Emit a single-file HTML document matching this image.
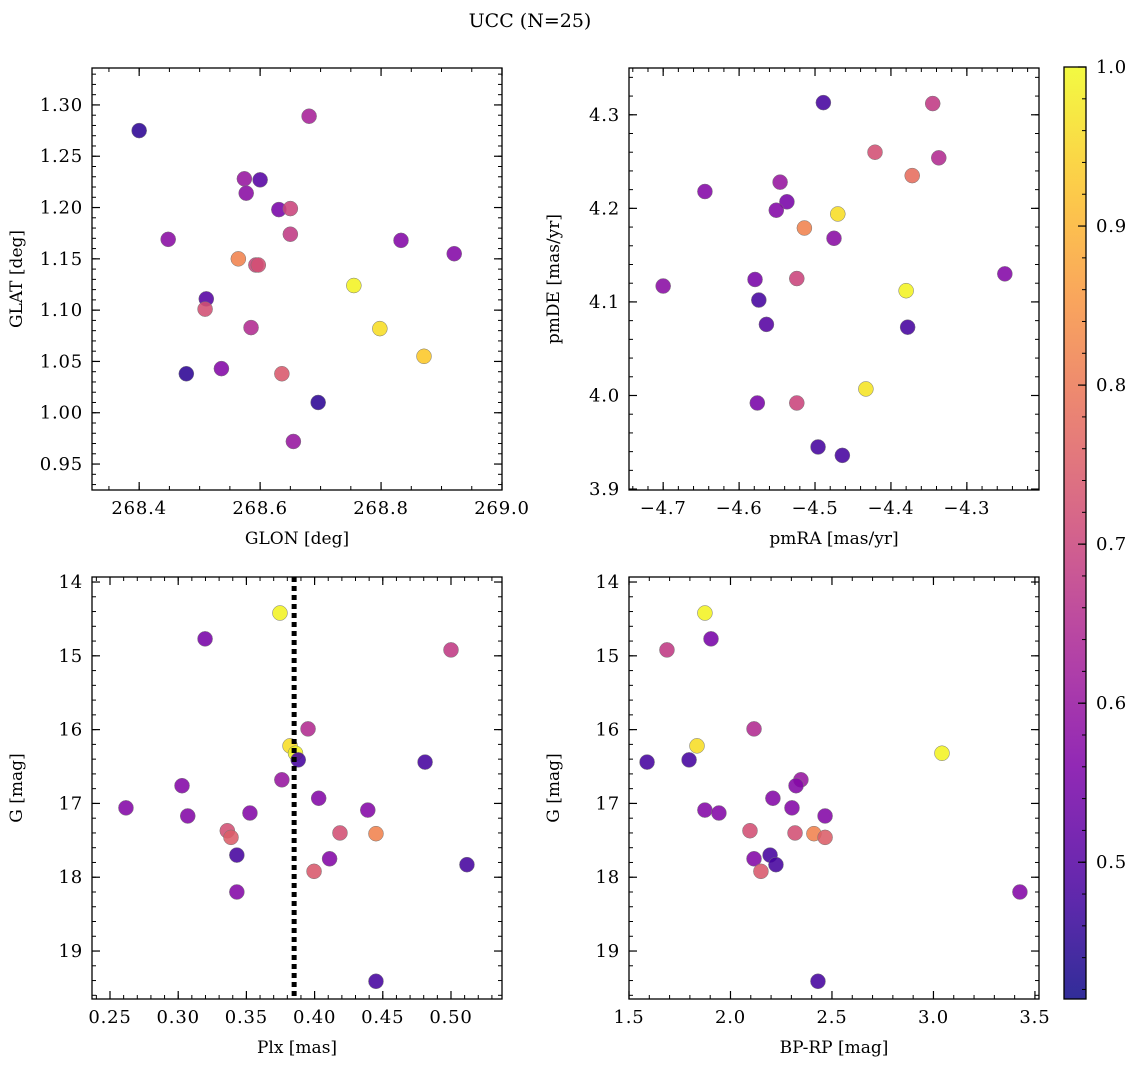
<!DOCTYPE html>
<html><head><meta charset="utf-8">
<style>
html,body{margin:0;padding:0;background:#fff;}
svg text{font-family:"DejaVu Serif","Liberation Serif",serif;fill:#000;}
</style></head>
<body>
<svg id="fig" width="1136" height="1067" xmlns="http://www.w3.org/2000/svg">
<text x="530" y="27" font-size="19" text-anchor="middle">UCC (N=25)</text>
</svg>
<script>
// ---- Data ----
const glon=[268.400,268.448,268.511,268.509,268.478,268.536,268.564,268.574,268.577,268.600,268.585,268.593,268.597,268.631,268.650,268.650,268.636,268.681,268.696,268.655,268.755,268.798,268.833,268.871,268.921];
const glat=[1.275,1.169,1.111,1.101,1.038,1.043,1.150,1.228,1.214,1.227,1.083,1.144,1.144,1.198,1.199,1.174,1.038,1.289,1.010,0.972,1.124,1.082,1.168,1.055,1.155];
const probTL=[0.45,0.58,0.50,0.72,0.45,0.57,0.82,0.60,0.58,0.50,0.65,0.70,0.72,0.55,0.70,0.68,0.74,0.63,0.45,0.60,0.99,0.96,0.57,0.93,0.57];
const pmra=[-4.700,-4.645,-4.489,-4.345,-4.421,-4.337,-4.372,-4.546,-4.537,-4.551,-4.470,-4.514,-4.475,-4.579,-4.524,-4.574,-4.564,-4.380,-4.378,-4.250,-4.433,-4.576,-4.524,-4.496,-4.464];
const pmde=[4.117,4.218,4.313,4.312,4.260,4.254,4.235,4.228,4.207,4.198,4.194,4.179,4.168,4.124,4.125,4.102,4.076,4.112,4.073,4.130,4.007,3.992,3.992,3.945,3.936];
const probTR=[0.58,0.57,0.48,0.68,0.72,0.65,0.78,0.60,0.55,0.57,0.96,0.82,0.58,0.55,0.70,0.48,0.50,0.99,0.48,0.57,0.97,0.55,0.70,0.48,0.48];
const plx=[0.3746,0.3197,0.500,0.3952,0.382,0.386,0.388,0.481,0.3028,0.376,0.403,0.2617,0.3526,0.439,0.307,0.336,0.3387,0.4186,0.445,0.343,0.411,0.3996,0.5117,0.343,0.445];
const gBL=[14.42,14.77,14.92,15.99,16.22,16.32,16.41,16.44,16.76,16.68,16.93,17.06,17.13,17.09,17.17,17.37,17.46,17.40,17.41,17.70,17.75,17.92,17.83,18.20,19.41];
const probBL=[0.99,0.55,0.68,0.65,0.96,0.99,0.48,0.48,0.57,0.60,0.57,0.57,0.57,0.57,0.57,0.72,0.75,0.72,0.82,0.48,0.57,0.74,0.48,0.57,0.48];
const plxLine=0.385;
const bprp=[1.874,1.904,1.687,2.116,1.835,3.042,1.589,1.796,2.347,2.323,2.209,1.874,1.943,2.303,2.466,2.096,2.318,2.411,2.466,2.195,2.116,2.224,2.150,3.426,2.431];
const gBR=[14.42,14.77,14.92,15.99,16.22,16.32,16.44,16.41,16.68,16.76,16.93,17.09,17.13,17.06,17.17,17.37,17.40,17.41,17.46,17.70,17.75,17.83,17.92,18.20,19.41];
const probBR=[0.99,0.55,0.68,0.65,0.96,0.99,0.48,0.48,0.60,0.57,0.57,0.57,0.57,0.57,0.57,0.72,0.72,0.82,0.75,0.48,0.57,0.48,0.74,0.57,0.48];
const cbTicks=[0.5,0.6,0.7,0.8,0.9,1.0];

const NS='http://www.w3.org/2000/svg';
const svg=document.getElementById('fig');
function mk(tag,attrs,parent){const e=document.createElementNS(NS,tag);for(const k in attrs)e.setAttribute(k,attrs[k]);(parent||svg).appendChild(e);return e;}
const VMIN=0.414,VMAX=1.0;
const stops=[[0,[13,8,135]],[0.125,[76,2,161]],[0.25,[126,3,168]],[0.375,[168,34,150]],[0.5,[204,71,120]],[0.625,[230,108,92]],[0.75,[248,149,64]],[0.875,[253,197,39]],[1,[240,249,33]]];
function plasma(t){t=Math.max(0,Math.min(1,t));for(let i=1;i<stops.length;i++){if(t<=stops[i][0]){const a=stops[i-1],b=stops[i];const f=(t-a[0])/(b[0]-a[0]);const c=a[1].map((v,j)=>Math.round(v+(b[1][j]-v)*f));return `rgb(${c[0]},${c[1]},${c[2]})`;}}return 'rgb(240,249,33)';}
function col(p){return plasma((p-VMIN)/(VMAX-VMIN));}
const neg=s=>s.replace('-','\u2212');

function panel(name,box,xd,yd,xmaj,xmin,ymaj,ymin,xfmt,yfmt,xlabel,ylabel,xs,ys,ps){
  const [L,T,R,B]=box;
  const g=mk('g',{});
  
  
  const sx=v=>L+(v-xd[0])/(xd[1]-xd[0])*(R-L);
  const sy=v=>T+(v-yd[0])/(yd[1]-yd[0])*(B-T);
  const eps=1e-9;
  function ticks(step,lo,hi){const a=[];const s=Math.ceil(Math.min(lo,hi)/step-eps);for(let k=s;k*step<=Math.max(lo,hi)+eps;k++)a.push(+(k*step).toFixed(6));return a;}
  ticks(xmin,xd[0],xd[1]).forEach(v=>{const x=sx(v);mk('line',{x1:x,x2:x,y1:B,y2:B-4,stroke:'#000','stroke-width':1},g);mk('line',{x1:x,x2:x,y1:T,y2:T+4,stroke:'#000','stroke-width':1},g);});
  ticks(ymin,yd[0],yd[1]).forEach(v=>{const y=sy(v);mk('line',{x1:L,x2:L+4,y1:y,y2:y,stroke:'#000','stroke-width':1},g);mk('line',{x1:R,x2:R-4,y1:y,y2:y,stroke:'#000','stroke-width':1},g);});
  ticks(xmaj,xd[0],xd[1]).forEach(v=>{const x=sx(v);mk('line',{x1:x,x2:x,y1:B,y2:B-8,stroke:'#000','stroke-width':1.2},g);mk('line',{x1:x,x2:x,y1:T,y2:T+8,stroke:'#000','stroke-width':1.2},g);
    const t=mk('text',{x:x,y:B+24,'font-size':18,'letter-spacing':0.8,'text-anchor':'middle'},g);t.textContent=neg(xfmt(v));});
  ticks(ymaj,yd[0],yd[1]).forEach(v=>{const y=sy(v);mk('line',{x1:L,x2:L+8,y1:y,y2:y,stroke:'#000','stroke-width':1.2},g);mk('line',{x1:R,x2:R-8,y1:y,y2:y,stroke:'#000','stroke-width':1.2},g);
    const t=mk('text',{x:L-9,y:y+6,'font-size':18,'letter-spacing':0.8,'text-anchor':'end'},g);t.textContent=neg(yfmt(v));});
  const xl=mk('text',{x:(L+R)/2,y:B+54,'font-size':17,'text-anchor':'middle'},g);xl.textContent=xlabel;
  
  
  const yl=mk('text',{x:0,y:0,'font-size':17,'text-anchor':'middle',transform:`translate(${L-70},${(T+B)/2}) rotate(-90)`},g);yl.textContent=ylabel;
  
  
  for(let i=0;i<xs.length;i++){
    const c=mk('circle',{cx:sx(xs[i]),cy:sy(ys[i]),r:7.5,fill:col(ps[i]),'fill-opacity':0.88,stroke:'#777','stroke-width':0.5},g);
    
    
  }
  mk('rect',{x:L,y:T,width:R-L,height:B-T,fill:'none',stroke:'#000','stroke-width':1.3},g);
  return {g,sx,sy,L,T,R,B};
}
const f1=v=>v.toFixed(1),f2=v=>v.toFixed(2),f0=v=>v.toFixed(0);
panel('glon-glat-panel',[92,68,502,490],[268.322,269.0],[1.336,0.9247],0.2,0.05,0.05,0.01,f1,f2,'GLON [deg]','GLAT [deg]',glon,glat,probTL);
panel('pm-panel',[629,68,1039,490],[-4.745,-4.205],[4.350,3.899],0.1,0.02,0.1,0.02,f1,f1,'pmRA [mas/yr]','pmDE [mas/yr]',pmra,pmde,probTR);
const bl=panel('plx-g-panel',[92,577,502,999],[0.2368,0.5374],[13.932,19.650],0.05,0.01,1,0.2,f2,f0,'Plx [mas]','G [mag]',plx,gBL,probBL);
const vl=mk('line',{x1:bl.sx(plxLine),x2:bl.sx(plxLine),y1:bl.T,y2:bl.B,stroke:'#000','stroke-width':5,'stroke-dasharray':'5,4'},bl.g);


panel('cmd-panel',[629,577,1039,999],[1.5,3.52],[13.932,19.650],0.5,0.1,1,0.2,f1,f0,'BP-RP [mag]','G [mag]',bprp,gBR,probBR);

// colorbar
const cb=mk('g',{});


const CL=1064,CR=1086,CT=67,CB=999;
const defs=mk('defs',{},cb);
const grad=mk('linearGradient',{id:'cbg',x1:0,y1:1,x2:0,y2:0},defs);
for(let i=0;i<=20;i++){mk('stop',{offset:i/20,'stop-color':plasma(i/20),'stop-opacity':0.85},grad);}
mk('rect',{x:CL,y:CT,width:CR-CL,height:CB-CT,fill:'url(#cbg)'},cb);
const cy=v=>CB-(v-VMIN)/(VMAX-VMIN)*(CB-CT);
for(let k=21;k<=50;k++){const v=k*0.02;if(v<VMIN)continue;const y=cy(v);mk('line',{x1:CR,x2:CR-4,y1:y,y2:y,stroke:'#000'},cb);}
cbTicks.forEach(v=>{const y=cy(v);mk('line',{x1:CR,x2:CR-8,y1:y,y2:y,stroke:'#000','stroke-width':1.2},cb);const t=mk('text',{x:CR+10,y:y+6,'font-size':18,'letter-spacing':0.8},cb);t.textContent=v.toFixed(1);});
mk('rect',{x:CL,y:CT,width:CR-CL,height:CB-CT,fill:'none',stroke:'#000','stroke-width':1.3},cb);
</script>
</body></html>
